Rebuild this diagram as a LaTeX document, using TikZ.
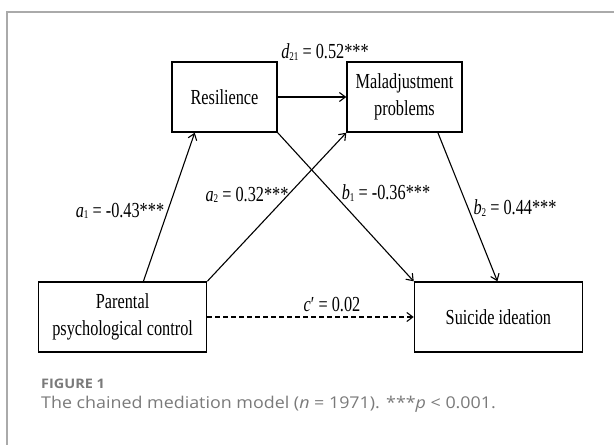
\documentclass[tikz,border=0pt]{standalone}
\usepackage{fontspec}
\setmainfont{Liberation Serif}
\newfontfamily\tnr[FakeStretch=0.76]{Liberation Serif}
\newfontfamily\capfont[FakeStretch=1.1]{Open Sans}
\usetikzlibrary{arrows.meta,calc}
\definecolor{framegray}{HTML}{AAAAAA}
\definecolor{capgray}{HTML}{7A7A7A}
\newcommand\sbs[1]{\raisebox{-0.15ex}{\fontsize{12}{12}\selectfont #1}}
\tikzset{
  box/.style={draw, line width=1.4bp, rectangle, minimum height=70bp, inner sep=0pt, align=center,
              font=\tnr\fontsize{21.5}{27}\selectfont},
  lab/.style={inner sep=0pt, font=\tnr\fontsize{21.5}{26}\selectfont},
  arr/.style={line width=1.1bp, -{Straight Barb[length=6bp,width=9bp,line width=1.1bp]}},
}
\begin{document}
\begin{tikzpicture}[x=1bp,y=-1bp]
\useasboundingbox (0,0) rectangle (614,445);
\draw[framegray, line width=1.3bp] (7,450) -- (7,12) -- (620,12);

\node[box, minimum width=105bp] (res) at (224.5,97) {Resilience};
\node[box, minimum width=115bp] (mal) at (404.5,97) {Maladjustment\\problems};
\node[box, minimum width=168bp] (par) at (122.6,317) {Parental\\psychological control};
\node[box, minimum width=168bp] (sui) at (498.4,317) {Suicide ideation};

\draw[arr] (res.east) -- (mal.west);
\draw[arr] ([xshift=20.8bp]par.north) -- ([xshift=-29.8bp]res.south);
\draw[arr] (par.north east) -- (mal.south west);
\draw[arr] (res.south east) -- (sui.north west);
\draw[arr] ([xshift=33.4bp]mal.south) -- ([xshift=-1bp]sui.north);
\draw[arr, dash pattern=on 5bp off 3bp] (par.east) -- (sui.west);

\node[lab] (ld) at (325,52) {\textit{d}\sbs{21} = 0.52***};
\node[lab] (la1) at (120,211) {\textit{a}\sbs{1} = -0.43***};
\node[lab] (la2) at (247,195) {\textit{a}\sbs{2} = 0.32***};
\node[lab] (lb1) at (386,193) {\textit{b}\sbs{1} = -0.36***};
\node[lab] (lb2) at (515,208) {\textit{b}\sbs{2} = 0.44***};
\node[lab] (lc) at (332,305) {\textit{c}′ = 0.02};

\node[anchor=base west, inner sep=0pt, text=capgray, font=\capfont\bfseries\fontsize{13.2}{14}\selectfont] (fig) at (41,388) {FIGURE 1};
\node[anchor=base west, inner sep=0pt, text=capgray, font=\capfont\fontsize{16.3}{18}\selectfont] (cap) at (41,408.5) {The chained mediation model (\textit{n} = 1971). ***\textit{p} < 0.001.};
\end{tikzpicture}
\end{document}
